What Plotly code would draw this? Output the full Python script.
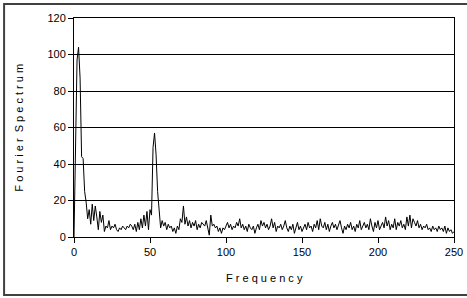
import plotly.graph_objects as go

frequency = list(range(0, 251))

spectrum = [
    0, 45, 97, 104, 87, 44, 43, 25, 19, 10,      # 0-9
    15, 7, 18, 9, 17, 11, 4, 14, 8, 12,          # 10-19
    3, 6, 5, 9, 4, 6, 5, 7, 4, 3,                # 20-29
    5, 4, 6, 5, 4, 6, 5, 7, 6, 4,                # 30-39
    7, 3, 8, 4, 10, 5, 12, 6, 14, 4,             # 40-49
    15, 12, 49, 57, 45, 25, 13, 5, 9, 6,         # 50-59
    8, 4, 7, 5, 6, 3, 5, 2, 6, 4,                # 60-69
    10, 8, 17, 7, 11, 6, 9, 5, 8, 6,             # 70-79
    9, 4, 7, 5, 8, 7, 6, 9, 5, 1,                # 80-89
    12, 6, 7, 5, 6, 3, 5, 2, 5, 4,               # 90-99
    6, 8, 5, 7, 4, 6, 5, 8, 6, 10,               # 100-109
    5, 7, 4, 6, 3, 7, 5, 4, 6, 2,                # 110-119
    5, 7, 4, 9, 6, 8, 5, 7, 4, 6,                # 120-129
    10, 5, 8, 3, 6, 5, 7, 4, 6, 9,               # 130-139
    5, 3, 6, 4, 7, 2, 5, 8, 4, 6,                # 140-149
    3, 5, 7, 4, 8, 5, 6, 3, 7, 5,                # 150-159
    9, 4, 10, 6, 5, 8, 4, 7, 3, 6,               # 160-169
    8, 5, 7, 4, 6, 9, 5, 2, 6, 4,                # 170-179
    7, 5, 8, 4, 6, 3, 7, 5, 9, 4,                # 180-189
    6, 8, 5, 7, 4, 10, 6, 3, 8, 5,               # 190-199
    9, 4, 6, 8, 5, 11, 6, 9, 4, 7,               # 200-209
    5, 10, 4, 8, 6, 9, 5, 7, 4, 11,              # 210-219
    6, 12, 5, 10, 8, 6, 9, 5, 7, 4,              # 220-229
    6, 5, 7, 4, 5, 3, 6, 4, 5, 3,                # 230-239
    6, 4, 5, 3, 6, 2, 5, 3, 4, 2,                # 240-249
    3,                                           # 250
]

x_ticks = [0, 50, 100, 150, 200, 250]
y_ticks = [0, 20, 40, 60, 80, 100, 120]

FONT = "Liberation Sans, Arial, sans-serif"

fig = go.Figure()
fig.add_trace(go.Scatter(
    x=frequency, y=spectrum, mode="lines",
    line=dict(color="black", width=1),
    showlegend=False, hoverinfo="skip",
))

fig.update_layout(
    width=467, height=298,
    margin=dict(l=74, r=13, t=18, b=61, autoexpand=False),
    paper_bgcolor="white", plot_bgcolor="white",
    font=dict(family=FONT, size=11, color="black"),
    xaxis=dict(
        range=[0, 250], tickvals=x_ticks, ticktext=[str(v) for v in x_ticks],
        showgrid=False, zeroline=False, automargin=False,
        showline=True, linecolor="black", linewidth=1, mirror=True,
        ticks="outside", ticklen=5, tickcolor="black", tickwidth=1,
        tickfont=dict(family=FONT, size=11, color="black"),
    ),
    yaxis=dict(
        range=[0, 120], tickvals=y_ticks, ticktext=[str(v) for v in y_ticks],
        showgrid=True, gridcolor="black", gridwidth=1, zeroline=False,
        automargin=False,
        showline=True, linecolor="black", linewidth=1, mirror=True,
        ticks="outside", ticklen=5, tickcolor="black", tickwidth=1,
        tickfont=dict(family=FONT, size=11, color="black"),
    ),
    annotations=[
        dict(text="F r e q u e n c y", xref="paper", yref="paper",
             x=0.5, y=-0.187, xanchor="center", yanchor="middle",
             showarrow=False, font=dict(family=FONT, size=11, color="black")),
        dict(text="F o u r i e r  S p e c t r u m", xref="paper", yref="paper",
             x=-0.147, y=0.5, xanchor="center", yanchor="middle", textangle=-90,
             showarrow=False, font=dict(family=FONT, size=11, color="black")),
    ],
    shapes=[
        dict(type="rect", xref="paper", yref="paper",
             x0=-0.184, x1=1.12, y0=-0.265, y1=1.064,
             line=dict(color="#404040", width=2), fillcolor="rgba(0,0,0,0)",
             layer="below"),
    ],
)

fig.write_html("out.html", config={"displayModeBar": False},
               post_script="document.body.style.margin='0';"
                           "document.body.style.overflow='hidden';"
                           "document.documentElement.style.overflow='hidden';")
